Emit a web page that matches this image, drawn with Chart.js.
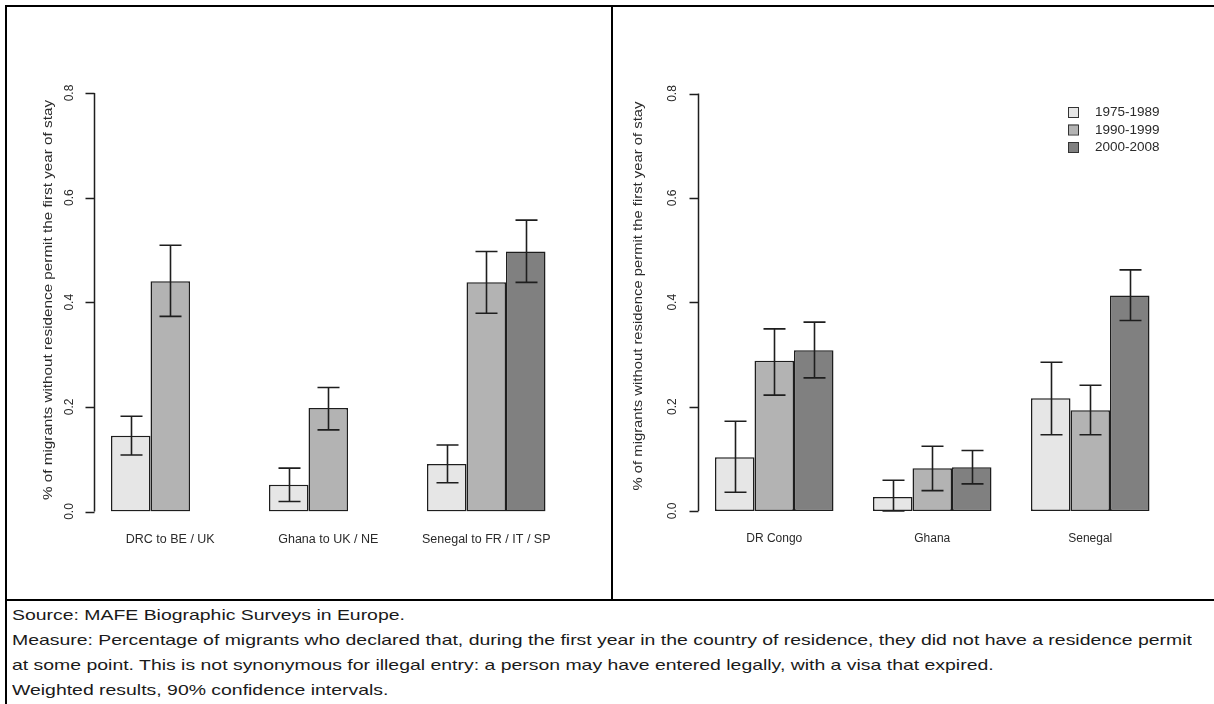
<!DOCTYPE html>
<html>
<head>
<meta charset="utf-8">
<script src="https://cdn.jsdelivr.net/npm/chart.js@4/dist/chart.umd.min.js"></script>
<style>
  html, body { margin: 0; padding: 0; background: #fff; }
  body { width: 1214px; height: 704px; position: relative; overflow: hidden; }
  .rule { position: absolute; background: #000; }
  canvas { position: absolute; }
  #notes { position: absolute; left: 12px; top: 603px; transform-origin: 0 0;
           font-family: "Liberation Sans Narrow", "Liberation Sans", Arial, sans-serif;
           font-size: 14.5px; color: #1a1a1a; white-space: nowrap; }
  #notes div { height: 25px; line-height: 25px; }
</style>
</head>
<body>
<div class="rule" style="left:5px;top:5px;width:1209px;height:2px"></div>
<div class="rule" style="left:5px;top:5px;width:2px;height:699px"></div>
<div class="rule" style="left:611px;top:5px;width:2px;height:596px"></div>
<div class="rule" style="left:5px;top:599px;width:1209px;height:2px"></div>

<canvas id="left" width="602" height="590" style="left:8px;top:8px"></canvas>
<canvas id="right" width="598" height="590" style="left:614px;top:8px"></canvas>

<div id="notes">
  <div>Source: MAFE Biographic Surveys in Europe.</div>
  <div id="longLine">Measure: Percentage of migrants who declared that, during the first year in the country of residence, they did not have a residence permit</div>
  <div>at some point. This is not synonymous for illegal entry: a person may have entered legally, with a visa that expired.</div>
  <div>Weighted results, 90% confidence intervals.</div>
</div>

<script>
// Periods of first arrival
const periods = ['1975-1989', '1990-1999', '2000-2008'];
const periodColors = ['#e6e6e6', '#b3b3b3', '#808080'];
const yTicks = [0, 0.2, 0.4, 0.6, 0.8];
const yTickLabels = ['0.0', '0.2', '0.4', '0.6', '0.8'];
const axisTitle = '% of migrants without residence permit the first year of stay';

// Left panel: migration flows by destination
const flowCategories = ['DRC to BE / UK', 'Ghana to UK / NE', 'Senegal to FR / IT / SP'];
const flow1975 = [0.145, 0.051, 0.091];
const flow1975Low = [0.108, 0.019, 0.055];
const flow1975High = [0.182, 0.083, 0.127];
const flow1990 = [0.440, 0.198, 0.438];
const flow1990Low = [0.373, 0.156, 0.379];
const flow1990High = [0.509, 0.237, 0.497];
const flow2000 = [null, null, 0.497];
const flow2000Low = [null, null, 0.438];
const flow2000High = [null, null, 0.557];

// Right panel: by country of origin
const originCategories = ['DR Congo', 'Ghana', 'Senegal'];
const origin1975 = [0.103, 0.027, 0.216];
const origin1975Low = [0.036, 0.000, 0.146];
const origin1975High = [0.172, 0.059, 0.285];
const origin1990 = [0.288, 0.082, 0.193];
const origin1990Low = [0.222, 0.039, 0.146];
const origin1990High = [0.349, 0.124, 0.241];
const origin2000 = [0.308, 0.084, 0.413];
const origin2000Low = [0.255, 0.052, 0.365];
const origin2000High = [0.362, 0.116, 0.462];

const INK = '#1e1e1e';
const FONT = '"Liberation Sans", Arial, sans-serif';

function makeDataset(i, values, low, high) {
  return {
    label: periods[i],
    data: values,
    low: low,
    high: high,
    backgroundColor: periodColors[i],
    borderColor: INK,
    borderWidth: 1.5,
    borderSkipped: false,
    categoryPercentage: 0.75,
    barPercentage: 1.0
  };
}

// R-style axis, category labels, error bars and optional legend
const panelPlugin = {
  id: 'panel',
  afterDatasetsDraw(chart) {
    const ctx = chart.ctx;
    const y = chart.scales.y;
    const x = chart.scales.x;
    const o = chart.options.plugins.panel;
    ctx.save();
    // confidence intervals
    ctx.strokeStyle = INK;
    ctx.lineWidth = 1.6;
    chart.data.datasets.forEach((ds, di) => {
      const meta = chart.getDatasetMeta(di);
      meta.data.forEach((bar, i) => {
        if (ds.data[i] == null || ds.low[i] == null) return;
        const yl = y.getPixelForValue(ds.low[i]);
        const yh = y.getPixelForValue(ds.high[i]);
        const cx = Math.round(bar.x) + 0.5;
        ctx.beginPath();
        ctx.moveTo(cx, yl); ctx.lineTo(cx, yh);
        ctx.moveTo(cx - 11, yh); ctx.lineTo(cx + 11, yh);
        ctx.moveTo(cx - 11, yl); ctx.lineTo(cx + 11, yl);
        ctx.stroke();
      });
    });
    // y axis line and ticks
    const ax = Math.round(chart.chartArea.left + 2.4) + 0.5;
    const y0 = y.getPixelForValue(yTicks[0]);
    const y1 = y.getPixelForValue(yTicks[yTicks.length - 1]);
    ctx.lineWidth = 1.5;
    ctx.beginPath();
    ctx.moveTo(ax, y0); ctx.lineTo(ax, y1);
    yTicks.forEach(t => {
      const py = Math.round(y.getPixelForValue(t)) + 0.5;
      ctx.moveTo(ax - 9, py); ctx.lineTo(ax, py);
    });
    ctx.stroke();
    // tick labels, rotated
    ctx.fillStyle = '#2a2a2a';
    ctx.textAlign = 'center';
    ctx.textBaseline = 'middle';
    ctx.font = o.tickFont + 'px ' + FONT;
    yTicks.forEach((t, i) => {
      const py = y.getPixelForValue(t);
      ctx.save();
      ctx.translate(ax - o.tickGap, py);
      ctx.rotate(-Math.PI / 2);
      ctx.fillText(yTickLabels[i], 0, 0);
      ctx.restore();
    });
    // axis title, stretched along its reading direction
    ctx.font = o.titleFont + 'px ' + FONT;
    const tw = ctx.measureText(axisTitle).width;
    ctx.save();
    ctx.translate(ax - o.titleGap, o.titleCenter - 8);
    ctx.rotate(-Math.PI / 2);
    ctx.scale(o.titleLength / tw, 1);
    ctx.fillText(axisTitle, 0, 0);
    ctx.restore();
    // category labels
    ctx.font = o.catFont + 'px ' + FONT;
    chart.data.labels.forEach((lab, i) => {
      ctx.fillText(lab, x.getPixelForValue(i), y0 + 28);
    });
    // legend
    if (o.legend) {
      ctx.font = o.legendFont + 'px ' + FONT;
      ctx.textAlign = 'left';
      chart.data.datasets.forEach((ds, i) => {
        const ly = o.legend.y + i * o.legend.step;
        ctx.fillStyle = ds.backgroundColor;
        ctx.fillRect(o.legend.x, ly - 5, 10, 10);
        ctx.strokeStyle = '#333';
        ctx.lineWidth = 1;
        ctx.strokeRect(o.legend.x + 0.5, ly - 4.5, 10, 10);
        ctx.fillStyle = '#2a2a2a';
        ctx.fillText(ds.label, o.legend.x + 27, ly + 0.5);
      });
    }
    ctx.restore();
  }
};

function makeChart(id, labels, datasets, padding, panelOpts) {
  return new Chart(document.getElementById(id), {
    type: 'bar',
    data: { labels: labels, datasets: datasets },
    options: {
      responsive: false,
      animation: false,
      devicePixelRatio: 1,
      layout: { padding: padding },
      scales: {
        x: { display: false, offset: true },
        y: { display: false, min: 0, max: 0.8 }
      },
      plugins: {
        legend: { display: false },
        tooltip: { enabled: false },
        panel: panelOpts
      }
    },
    plugins: [panelPlugin]
  });
}

makeChart('left', flowCategories, [
  makeDataset(0, flow1975, flow1975Low, flow1975High),
  makeDataset(1, flow1990, flow1990Low, flow1990High),
  makeDataset(2, flow2000, flow2000Low, flow2000High)
], { left: 83.25, right: 44.75, top: 85, bottom: 86.5 },
{ tickFont: 12, tickGap: 25, titleFont: 12, titleGap: 46, titleCenter: 300, titleLength: 400,
  catFont: 12.5 });

makeChart('right', originCategories, [
  makeDataset(0, origin1975, origin1975Low, origin1975High),
  makeDataset(1, origin1990, origin1990Low, origin1990High),
  makeDataset(2, origin2000, origin2000Low, origin2000High)
], { left: 81.25, right: 42.75, top: 85.5, bottom: 87 },
{ tickFont: 12, tickGap: 26, titleFont: 12, titleGap: 60, titleCenter: 296, titleLength: 389,
  catFont: 12, legend: { x: 454, y: 104, step: 17.5 }, legendFont: 13.5 });

// Fit the notes block to the width of the table row
(function () {
  const notes = document.getElementById('notes');
  const w = document.getElementById('longLine').scrollWidth;
  const target = 1180;
  notes.style.transform = 'scaleX(' + (target / w) + ')';
})();
</script>
</body>
</html>
